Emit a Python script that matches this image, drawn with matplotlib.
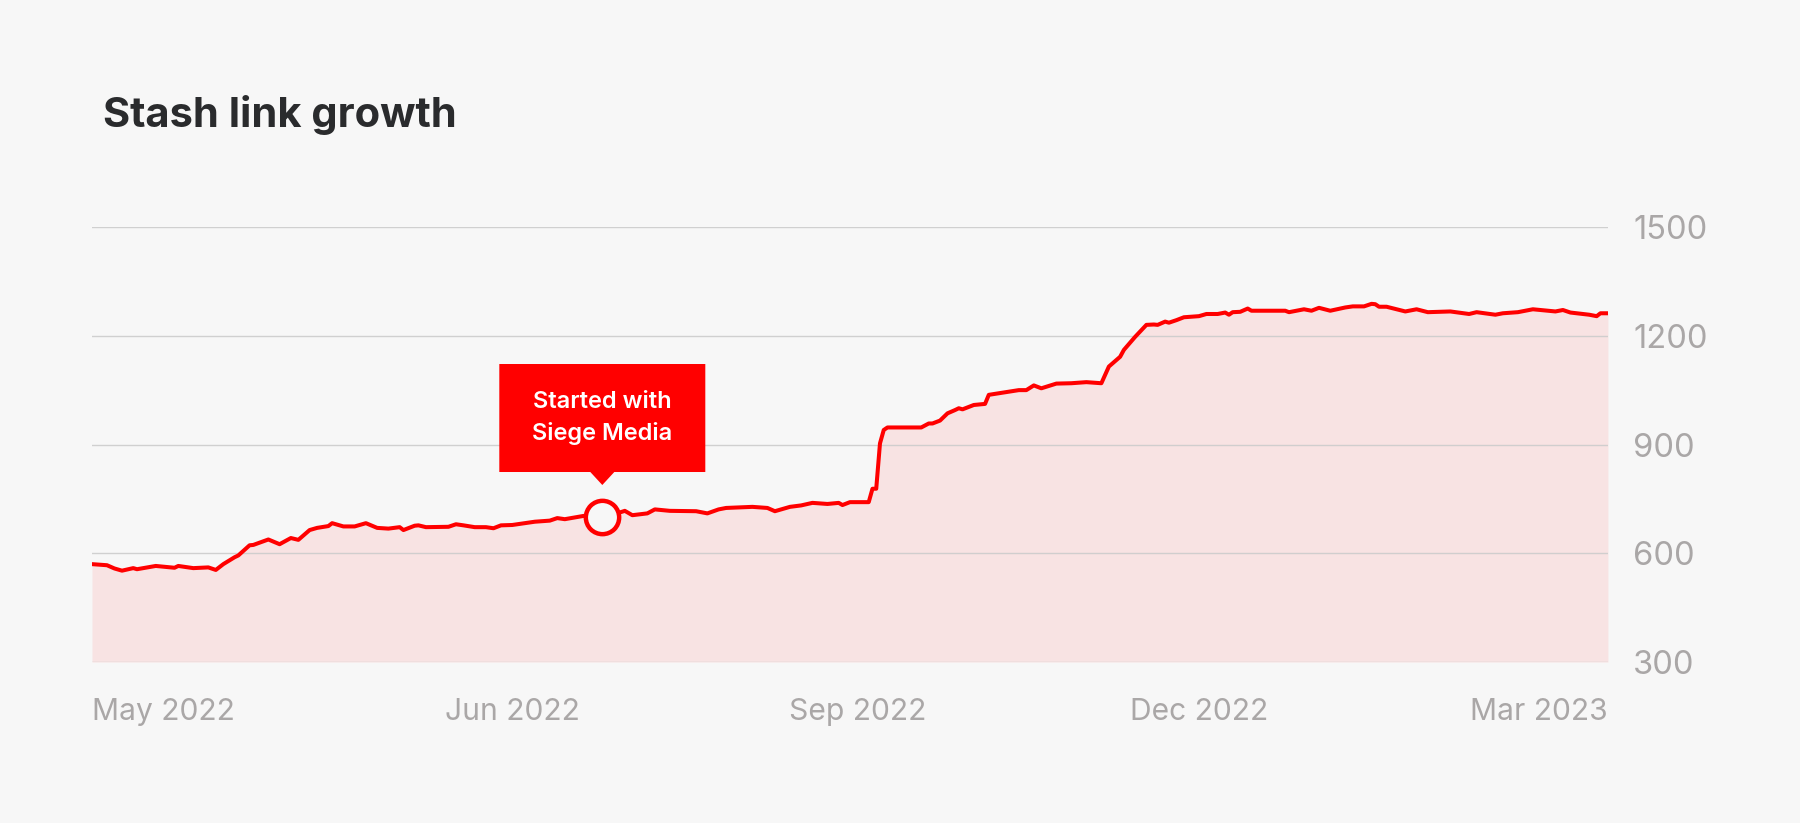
import matplotlib
matplotlib.use("Agg")
import matplotlib.pyplot as plt
from matplotlib.patches import Polygon

# Day offsets from first data point, and link counts
days = [0, 4, 6, 8, 11, 12, 17, 22, 23, 27, 31, 33, 35, 38, 39, 42, 43, 47, 50, 53,
        55, 58, 60, 63, 64, 67, 70, 73, 76, 79, 82, 83, 86, 87, 89, 95, 97, 99, 102, 105,
        107, 109, 112, 118, 122, 124, 126, 131, 136, 139, 142, 144, 148, 150, 154, 161, 164, 167, 169, 176,
        180, 182, 186, 189, 192, 196, 199, 200, 202, 207, 208, 209, 210, 211, 212, 221, 223, 224, 226, 228,
        230, 231, 232, 235, 238, 239, 244, 247, 249, 251, 253, 257, 261, 265, 269, 271, 274, 275, 278, 281,
        283, 284, 286, 287, 289, 291, 295, 297, 300, 302, 303, 304, 306, 308, 309, 318, 319, 323, 325, 327,
        330, 334, 336, 339, 341, 342, 343, 345, 350, 353, 356, 362, 367, 369, 374, 376, 380, 384, 390, 392,
        394, 399, 401, 402, 404]
links = [570, 567, 558, 552, 559, 556, 565, 560, 565, 559, 561, 554, 570, 589, 594, 622, 623, 638, 625, 642,
         637, 664, 670, 675, 683, 674, 674, 683, 670, 668, 672, 664, 676, 677, 672, 673, 680, 677, 672, 672,
         669, 677, 678, 687, 690, 697, 694, 703, 700, 707, 717, 705, 710, 721, 717, 716, 710, 721, 725, 728,
         725, 716, 728, 732, 739, 736, 739, 733, 741, 741, 778, 778, 903, 940, 947, 947, 958, 958, 966, 986,
         995, 1000, 997, 1009, 1012, 1037, 1045, 1050, 1050, 1063, 1055, 1068, 1069, 1072, 1069, 1115, 1142, 1161, 1197, 1230,
         1231, 1230, 1239, 1236, 1243, 1251, 1254, 1260, 1260, 1264, 1258, 1265, 1266, 1275, 1269, 1269, 1265, 1273, 1269, 1277,
         1269, 1278, 1281, 1281, 1288, 1287, 1280, 1280, 1267, 1273, 1265, 1267, 1260, 1265, 1258, 1262, 1265, 1273, 1267, 1271,
         1264, 1258, 1254, 1262, 1262]

tick_days = [0, 112, 204, 295, 404]
tick_labels = ["May 2022", "Jun 2022", "Sep 2022", "Dec 2022", "Mar 2023"]
y_ticks = [300, 600, 900, 1200, 1500]

event_day = 136
event_value = 700
event_text = "Started with\nSiege Media"

bg = "#f7f7f7"
red = "#ff0000"
grey_text = "#aaa7a7"

plt.rcParams["font.family"] = ["Inter", "DejaVu Sans"]

fig = plt.figure(figsize=(18, 8.23), dpi=100, facecolor=bg)
ax = fig.add_axes([0.0511, 0.1956, 0.8422, 0.5286])
ax.set_facecolor(bg)

ax.fill_between(days, links, 300, color="#f8e3e3", lw=0, zorder=1)
ax.plot(days, links, color=red, lw=2.9, zorder=3, solid_joinstyle="round",
        solid_capstyle="round")

ax.set_xlim(0, 404)
ax.set_ylim(300, 1500)

for v in y_ticks:
    ax.axhline(v, color="#cccccc", lw=1.0, zorder=2, alpha=0.9)

for s in ax.spines.values():
    s.set_visible(False)

ax.yaxis.tick_right()
ax.set_yticks(y_ticks)
ax.set_yticklabels([str(v) for v in y_ticks])
ax.tick_params(axis="y", length=0, pad=18, labelsize=23.5, labelcolor=grey_text)
ax.set_xticks(tick_days)
ax.set_xticklabels(tick_labels)
ax.tick_params(axis="x", length=0, pad=26, labelsize=21.6, labelcolor=grey_text)
xl = ax.get_xticklabels()
xl[0].set_ha("left")
xl[-1].set_ha("right")

# marker at the event
ax.plot([event_day], [event_value], marker="o", ms=24, mfc=bg, mec=red, mew=3.2, zorder=5)

# callout box above the marker, built in pixel units
fig.canvas.draw()
mx, my = ax.transData.transform((event_day, event_value))
box_w, box_h = 206, 108
gap = 32
tri_h, tri_w = 13, 24
top = my + gap + tri_h + box_h
bottom = my + gap + tri_h
pts = [(mx - box_w / 2, bottom), (mx - tri_w / 2, bottom), (mx, bottom - tri_h),
       (mx + tri_w / 2, bottom), (mx + box_w / 2, bottom), (mx + box_w / 2, top),
       (mx - box_w / 2, top)]
fig.patches.append(Polygon(pts, closed=True, transform=None, facecolor=red,
                           edgecolor="none", zorder=6))
fig.text(mx / fig.dpi / 18, (bottom + box_h / 2) / fig.dpi / 8.23, event_text,
         color="white", fontsize=17, fontweight="semibold", ha="center", va="center",
         linespacing=1.55, zorder=7)

fig.text(103 / 1800, 1 - 115 / 823, "Stash link growth", fontsize=30, fontweight="bold",
         color="#2a2b2d", ha="left", va="center")

fig.savefig("out.png", dpi=100, facecolor=bg)
